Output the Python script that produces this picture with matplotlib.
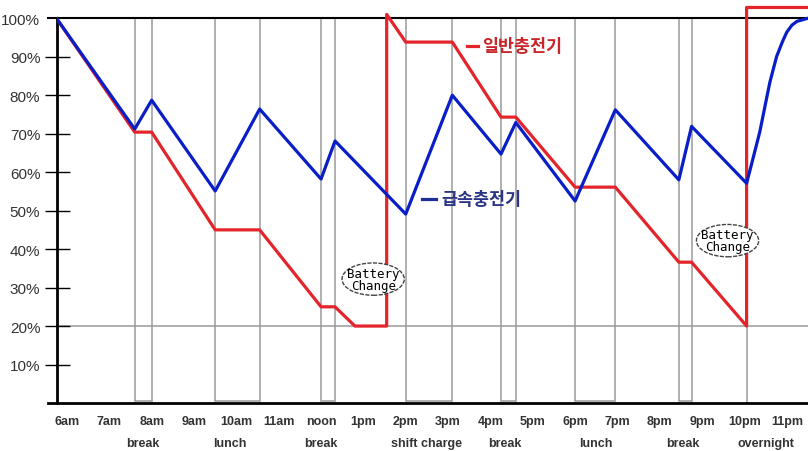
import matplotlib.pyplot as plt
from matplotlib.patches import Rectangle, Ellipse

# time of day in hours, state of charge in %
hour_labels = ['6am', '7am', '8am', '9am', '10am', '11am', 'noon', '1pm', '2pm',
               '3pm', '4pm', '5pm', '6pm', '7pm', '8pm', '9pm', '10pm', '11pm']
hour_ticks = list(range(6, 24))

# pauses (start, end, label)
pause_start = [7.6, 9.5, 12.0, 14.0, 16.25, 18.0, 20.45]
pause_end = [8.0, 10.55, 12.33, 15.1, 16.6, 18.95, 20.75]
pause_names = ['break', 'lunch', 'break', 'shift charge', 'break', 'lunch', 'break']
pause_label_x = [7.8, 9.85, 12.0, 14.5, 16.35, 18.5, 20.55]
overnight_x = 22.05

fast_t = [5.75, 7.6, 8.0, 9.5, 10.55, 12.0, 12.33, 14.0, 15.1, 16.25, 16.6, 18.0,
          18.95, 20.45, 20.75, 22.05, 22.2, 22.36, 22.5, 22.6, 22.76, 22.9, 23.0,
          23.12, 23.24, 23.5]
fast_pct = [100, 71.2, 78.7, 55.1, 76.4, 58.2, 68.1, 49.1, 80.0, 64.7, 72.9, 52.5,
            76.2, 58.0, 71.9, 57.1, 63.5, 70.4, 78.0, 83.4, 90.1, 94.0, 96.4,
            98.2, 99.2, 100]

normal_t = [5.75, 7.6, 8.0, 9.5, 10.55, 12.0, 12.33, 12.8, 13.55, 13.55, 14.0, 15.1,
            16.25, 16.6, 18.0, 18.95, 20.45, 20.75, 22.05, 22.05, 23.5]
normal_pct = [100, 70.4, 70.4, 45, 45, 25, 25, 20, 20, 101, 93.8, 93.8,
              74.3, 74.3, 56.1, 56.1, 36.6, 36.6, 20, 102.8, 102.8]

red = '#e3242b'
blue = '#0a1ec8'
grey = '#9a9a9a'
txt = '#333333'

fig = plt.figure(figsize=(8.08, 4.52), dpi=100)
ax = fig.add_axes([57 / 808, 1 - 404 / 452, 751 / 808, 404 / 452])
ax.set_xlim(5.764, 23.5)
ax.set_ylim(0, 105)

# pause boxes and grid
for s, e in zip(pause_start, pause_end):
    ax.add_patch(Rectangle((s, 0.6), e - s, 99.4, fill=False, edgecolor=grey, lw=1.1, zorder=1))
ax.plot([overnight_x, overnight_x], [0, 100], color=grey, lw=1.1, zorder=1)
ax.axhline(20, color=grey, lw=1.1, zorder=1)
ax.plot([5.55, 23.5], [100, 100], color='black', lw=1.5, clip_on=False, zorder=2)

ax.plot(normal_t, normal_pct, color=red, lw=2.3, zorder=3)
ax.plot(fast_t, fast_pct, color=blue, lw=2.3, zorder=4)

# legend labels
ax.plot([15.45, 15.7], [92.8, 92.8], color=red, lw=2.3)
ax.text(15.8, 92.8, '일반충전기', color='#c8262b', fontsize=12.5, fontweight='bold',
        family=['Noto Sans CJK KR', 'DejaVu Sans'], va='center', ha='left')
ax.plot([14.38, 14.72], [53.0, 53.0], color='#1e2e96', lw=2.3)
ax.text(14.85, 53.0, '급속충전기', color='#2b3585', fontsize=12.5, fontweight='bold',
        family=['Noto Sans CJK KR', 'DejaVu Sans'], va='center', ha='left')

# battery change callouts
for cx, cy in [(13.23, 32.2), (21.6, 42.2)]:
    ax.add_patch(Ellipse((cx, cy), 1.47, 8.4, fill=True, facecolor='white',
                         edgecolor='#444444', lw=1.0, ls=(0, (3, 1)), zorder=5))
    ax.text(cx, cy, 'Battery\nChange', family='DejaVu Sans Mono', fontsize=9,
            ha='center', va='center', linespacing=0.9, zorder=6)

ax.set_yticks([10, 20, 30, 40, 50, 60, 70, 80, 90, 100])
ax.set_yticklabels(['10%', '20%', '30%', '40%', '50%', '60%', '70%', '80%', '90%', '100%'],
                   fontsize=11, color=txt, family='Liberation Sans')
ax.tick_params(axis='y', direction='inout', length=18, width=1.0, pad=3)
ax.yaxis.get_major_ticks()[-1].tick1line.set_visible(False)
ax.set_xticks(hour_ticks)
ax.set_xticklabels(hour_labels, fontsize=9, fontweight='bold', color=txt, family='Liberation Sans')
ax.tick_params(axis='x', length=0, pad=9)

for x, name in zip(pause_label_x, pause_names):
    ax.text(x, -10.3, name, fontsize=9, fontweight='bold', color=txt,
            family='Liberation Sans', ha='center', va='center', clip_on=False)
ax.text(22.5, -10.3, 'overnight', fontsize=9, fontweight='bold', color=txt,
        family='Liberation Sans', ha='center', va='center', clip_on=False)

for side in ['top', 'right']:
    ax.spines[side].set_visible(False)
ax.spines['left'].set_linewidth(2)
ax.spines['left'].set_bounds(0, 100)
ax.spines['bottom'].set_visible(False)
ax.plot([5.55, 23.5], [0, 0], color='black', lw=2, clip_on=False, zorder=2)

fig.savefig('out.png', dpi=100)
